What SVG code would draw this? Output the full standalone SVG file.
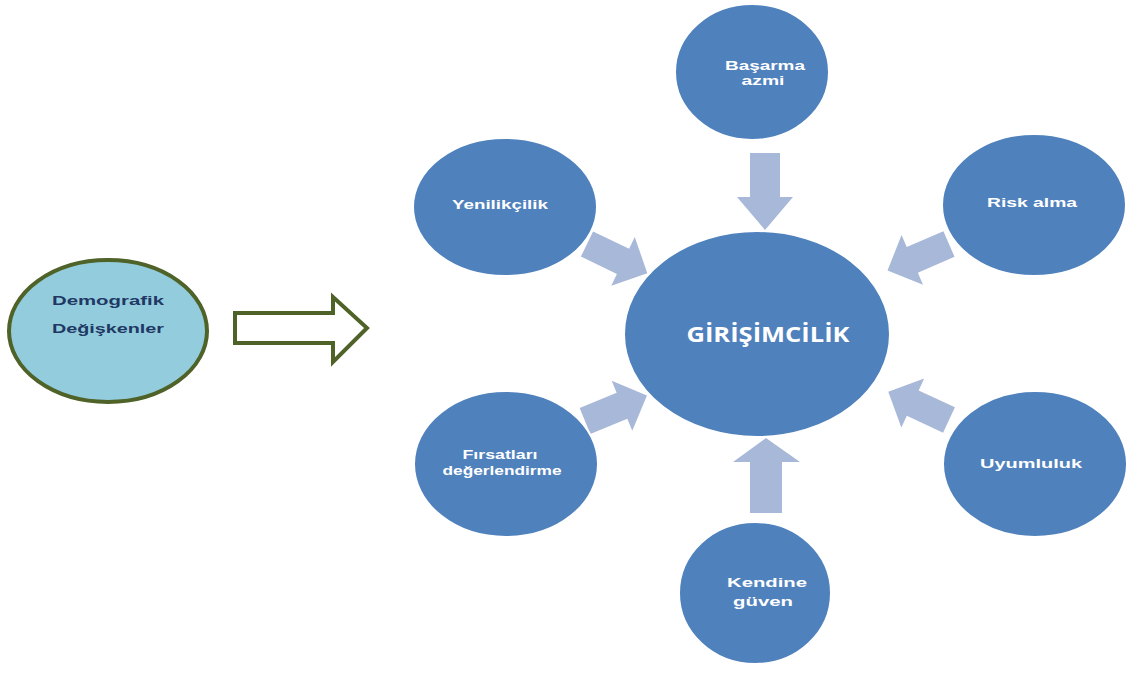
<svg xmlns="http://www.w3.org/2000/svg" width="1132" height="673" viewBox="0 0 1132 673">
<defs>
<style>
.c{fill:#4f81bd;stroke:#ffffff;stroke-width:2}
.t{font-family:"Liberation Sans",Arial,sans-serif;font-weight:bold;fill:#ffffff;font-size:13px;text-anchor:middle}
.big{font-family:"Open Sans","Liberation Sans",sans-serif;font-weight:bold;fill:#ffffff;font-size:22px;text-anchor:middle}
.ar{fill:#a8b8d8}
.dt{font-family:"Liberation Sans",Arial,sans-serif;font-weight:bold;fill:#1f3864;font-size:13px;text-anchor:middle}
</style>
<path id="darr" d="M0,-14 L40,-14 L40,-27 L67,0 L40,27 L40,14 L0,14 Z"/>
</defs>
<rect width="1132" height="673" fill="#ffffff"/>

<g id="connectors">
<polygon class="ar" points="750,153 780,153 780,197 793,197 765,230 737,197 750,197"/>
<polygon class="ar" points="750,513 782,513 782,462 800,462 766,438 733,462 750,462"/>
<use href="#darr" class="ar" transform="translate(587,244) rotate(25.8)"/>
<use href="#darr" class="ar" transform="translate(949,244) rotate(156.6)"/>
<use href="#darr" class="ar" transform="translate(585,421) rotate(-22.4)"/>
<use href="#darr" class="ar" transform="translate(949,420) rotate(-155)"/>
<polygon points="235,313 333,313 333,297 367,328 333,362 333,343 235,343" fill="none" stroke="#4f6228" stroke-width="4" stroke-linejoin="miter"/>
</g>

<g id="demografik">
<ellipse cx="108" cy="331" rx="99" ry="71" fill="#93cddd" stroke="#4f6228" stroke-width="4"/>
<text class="dt" x="108" y="305" textLength="112" lengthAdjust="spacingAndGlyphs">Demografik</text>
<text class="dt" x="108" y="333" textLength="112" lengthAdjust="spacingAndGlyphs">Değişkenler</text>
</g>

<g id="girisimcilik">
<ellipse class="c" cx="757" cy="334" rx="133" ry="103"/>
<text class="big" x="768" y="342" textLength="163" lengthAdjust="spacingAndGlyphs">GİRİŞİMCİLİK</text>
</g>

<g id="basarma">
<ellipse class="c" cx="752" cy="72" rx="77" ry="68"/>
<text class="t" x="765" y="70" textLength="80" lengthAdjust="spacingAndGlyphs">Başarma</text>
<text class="t" x="763" y="85" textLength="43" lengthAdjust="spacingAndGlyphs">azmi</text>
</g>

<g id="yenilikcilik">
<ellipse class="c" cx="505" cy="207" rx="92" ry="69"/>
<text class="t" x="500" y="209" textLength="96" lengthAdjust="spacingAndGlyphs">Yenilikçilik</text>
</g>

<g id="risk">
<ellipse class="c" cx="1034" cy="205" rx="92" ry="71"/>
<text class="t" x="1032" y="207" textLength="90" lengthAdjust="spacingAndGlyphs">Risk alma</text>
</g>

<g id="firsatlari">
<ellipse class="c" cx="506" cy="464" rx="92" ry="73"/>
<text class="t" x="500" y="459" textLength="75" lengthAdjust="spacingAndGlyphs">Fırsatları</text>
<text class="t" x="502" y="475" textLength="119" lengthAdjust="spacingAndGlyphs">değerlendirme</text>
</g>

<g id="uyumluluk">
<ellipse class="c" cx="1035" cy="464" rx="92" ry="73"/>
<text class="t" x="1031" y="468" textLength="102" lengthAdjust="spacingAndGlyphs">Uyumluluk</text>
</g>

<g id="kendine">
<ellipse class="c" cx="755" cy="593" rx="76" ry="71"/>
<text class="t" x="767" y="587" textLength="80" lengthAdjust="spacingAndGlyphs">Kendine</text>
<text class="t" x="763" y="606" textLength="60" lengthAdjust="spacingAndGlyphs">güven</text>
</g>
</svg>
